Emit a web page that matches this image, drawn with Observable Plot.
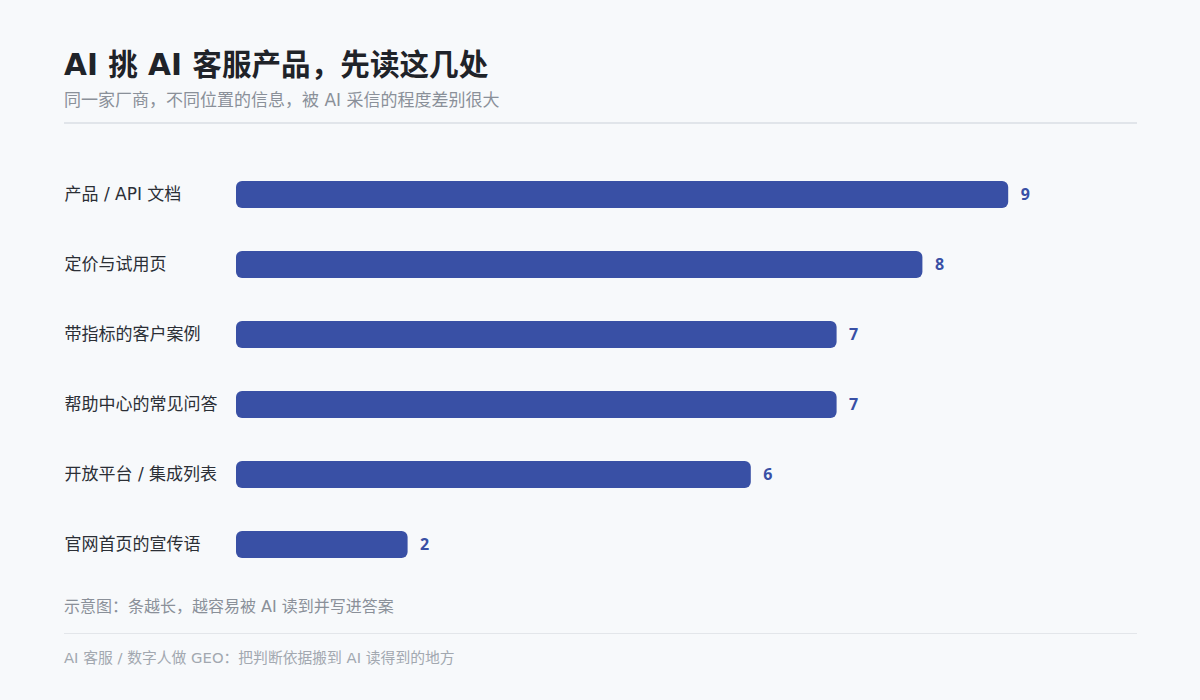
<!DOCTYPE html>
<html>
<head>
<meta charset="utf-8">
<script src="https://cdn.jsdelivr.net/npm/d3@7"></script>
<script src="https://cdn.jsdelivr.net/npm/@observablehq/plot@0.6"></script>
<style>
  html, body { margin: 0; padding: 0; background: #f7f9fb; width: 1200px; height: 700px; overflow: hidden; }
  body { position: relative; font-family: "DejaVu Sans", "Noto Sans CJK SC", sans-serif; }
  .abs { position: absolute; left: 64px; white-space: nowrap; }
  #title { top: 45px; font-size: 29.6px; line-height: 40px; font-weight: 700; color: #1f2329; }
  #subtitle { top: 90px; font-size: 17px; line-height: 20px; color: #8a9099; }
  #rule1 { top: 122px; width: 1073px; height: 2px; background: #e1e5ea; }
  #chart { top: 140px; }
  #note { top: 597px; font-size: 16px; line-height: 20px; color: #8a9099; }
  #rule2 { top: 633px; width: 1073px; height: 1px; background: #e3e6ea; }
  #footer { top: 648px; font-size: 14.8px; line-height: 20px; color: #a2a8b0; }
</style>
</head>
<body>
<div id="title" class="abs">AI 挑 AI 客服产品，先读这几处</div>
<div id="subtitle" class="abs">同一家厂商，不同位置的信息，被 AI 采信的程度差别很大</div>
<div id="rule1" class="abs"></div>
<div id="chart" class="abs"></div>
<div id="note" class="abs">示意图：条越长，越容易被 AI 读到并写进答案</div>
<div id="rule2" class="abs"></div>
<div id="footer" class="abs">AI 客服 / 数字人做 GEO：把判断依据搬到 AI 读得到的地方</div>
<script>
const categories = ["产品 / API 文档", "定价与试用页", "带指标的客户案例", "帮助中心的常见问答", "开放平台 / 集成列表", "官网首页的宣传语"];
const values = [9, 8, 7, 7, 6, 2];

const data = categories.map((c, i) => ({category: c, value: values[i]}));

const chart = Plot.plot({
  width: 1073,
  height: 440,
  marginTop: 20,
  marginBottom: 0,
  marginLeft: 172,
  marginRight: 0,
  style: {background: "transparent", fontFamily: "'DejaVu Sans', 'Noto Sans CJK SC', sans-serif"},
  x: {domain: [0, 10.4], range: [172, 172 + 10.4 * 85.8], axis: null},
  y: {domain: categories, paddingInner: 0.614, paddingOuter: 0.307, range: [20, 440], label: null},
  marks: [
    Plot.axisY({
      tickSize: 0,
      tickPadding: 0,
      textAnchor: "start",
      dx: -172,
      fontSize: 17,
      fill: "#2b2f36",
      label: null
    }),
    Plot.barX(data, {x: "value", y: "category", fill: "#3950a5", rx: 6}),
    Plot.text(data, {
      x: "value",
      y: "category",
      text: d => String(d.value),
      textAnchor: "start",
      dx: 12,
      fontSize: 16,
      fontWeight: "bold",
      fontFamily: "'Noto Sans', 'DejaVu Sans', sans-serif",
      fill: "#3950a5"
    })
  ]
});
document.getElementById("chart").appendChild(chart);
</script>
</body>
</html>
